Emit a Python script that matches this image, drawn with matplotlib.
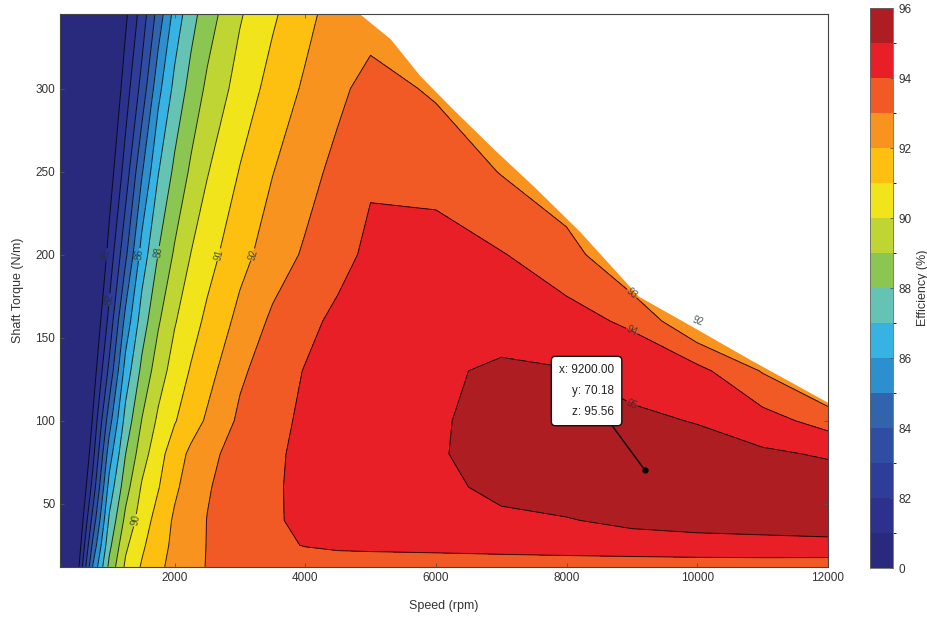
import matplotlib
matplotlib.use("Agg")
import matplotlib.pyplot as plt
import numpy as np
from matplotlib.colors import ListedColormap, BoundaryNorm

plt.rcParams["font.family"] = ["Liberation Sans Narrow", "Liberation Sans", "DejaVu Sans"]

# grid (speed in rpm, torque in N/m, efficiency in %)
speed = [250, 500, 750, 1000, 1250, 1500, 1750, 2000, 2250, 2500, 3000,
         3500, 4000, 4500, 5000, 6000, 7000, 8000, 9000, 10000, 11000, 12000]
torque = [12, 25, 40, 60, 80, 100, 130, 160, 200, 250, 300, 345]
efficiency = [
    [78.3, 80.28, 85.1, 88.26, 90.18, 91.1, 91.81, 92.29, 92.67, 93.05, 93.2, 93.3, 93.35, 93.4, 93.4, 93.45, 93.45, 93.45, 93.45, 93.45, 93.45, 93.4],
    [77.9, 79.86, 84.26, 87.73, 89.82, 90.83, 91.62, 92.21, 92.64, 93.03, 93.4, 93.75, 94.05, 94.2, 94.25, 94.3, 94.4, 94.5, 94.6, 94.7, 94.75, 94.8],
    [77.5, 79.47, 83.38, 87.16, 89.26, 90.5, 91.39, 92.14, 92.59, 93.02, 93.46, 93.89, 94.2, 94.4, 94.55, 94.7, 94.85, 94.95, 95.2, 95.3, 95.35, 95.4],
    [77.0, 79.0, 82.4, 86.36, 88.6, 90.11, 90.94, 91.83, 92.42, 92.93, 93.43, 93.9, 94.2, 94.45, 94.6, 94.8, 95.2, 95.45, 95.55, 95.6, 95.55, 95.5],
    [76.6, 78.56, 81.69, 85.52, 87.99, 89.56, 90.64, 91.5, 92.21, 92.75, 93.38, 93.86, 94.2, 94.45, 94.65, 94.9, 95.4, 95.5, 95.55, 95.4, 95.15, 94.9],
    [76.2, 78.2, 81.13, 84.59, 87.36, 89.04, 90.18, 90.93, 91.54, 92.14, 93.18, 93.76, 94.15, 94.4, 94.6, 94.9, 95.3, 95.4, 95.2, 94.95, 94.4, 93.6],
    [75.7, 77.7, 80.41, 83.25, 86.41, 88.25, 89.53, 90.41, 91.08, 91.64, 92.83, 93.51, 94.05, 94.4, 94.65, 94.85, 95.15, 95.05, 94.6, 94.3, 92.93, 91.5],
    [75.4, 77.4, 79.82, 82.3, 85.34, 87.49, 88.88, 89.92, 90.6, 91.21, 92.28, 93.18, 93.71, 94.25, 94.5, 94.75, 94.6, 94.3, 93.85, 92.0, 92.0, 92.0],
    [75.0, 76.9, 79.15, 81.36, 83.79, 86.43, 88.03, 89.13, 90.02, 90.62, 91.68, 92.48, 93.13, 93.62, 94.25, 94.35, 94.05, 93.5, 91.8, 91.8, 91.8, 91.8],
    [74.5, 76.5, 78.48, 80.46, 82.44, 84.9, 86.95, 88.21, 89.16, 89.94, 91.05, 91.97, 92.62, 93.3, 93.85, 93.7, 92.95, 92.0, 92.5, 92.5, 92.5, 92.5],
    [74.2, 76.2, 77.95, 79.73, 81.5, 83.36, 85.69, 87.28, 88.35, 89.19, 90.41, 91.36, 92.15, 92.75, 93.4, 92.85, 92.5, 92.5, 92.5, 92.5, 92.5, 92.5],
    [74.0, 75.9, 77.54, 79.18, 80.81, 82.44, 84.39, 86.36, 87.62, 88.53, 89.9, 90.85, 91.69, 92.5, 92.5, 92.5, 92.5, 92.5, 92.5, 92.5, 92.5, 92.5],
]

levels = [0, 81, 82, 83, 84, 85, 86, 87, 88, 89, 90, 91, 92, 93, 94, 95, 96]
cbar_ticks = [0, 82, 84, 86, 88, 90, 92, 94, 96]
labelled = [81, 82, 86, 88, 90, 91, 92, 93, 94, 95]

# maximum torque envelope
limit_speed = [4800, 5300, 5750, 6250, 6900, 7500, 8200, 9100, 10000, 10800, 12000]
limit_torque = [346, 330, 308, 288, 263, 241, 214, 175, 155, 137, 111]

# data cursor
tip_speed, tip_torque, tip_eff = 9200, 70.18, 95.56

band_colors = ["#29297d", "#2b318c", "#2d3d98", "#2f4ea3", "#3264ae",
               "#2e8fcf", "#36b2e3", "#64c3b4", "#8cc652", "#bed534",
               "#f1e41b", "#fdc010", "#f7931e", "#f15a24", "#e81f27", "#ad1d22"]

fig = plt.figure(figsize=(9.27, 6.27), dpi=100)
ax = fig.add_axes([0.065, 0.096, 0.828, 0.882])
cax = fig.add_axes([0.9385, 0.094, 0.025, 0.893])

cmap = ListedColormap(band_colors)
norm = BoundaryNorm(levels, cmap.N)
cf = ax.contourf(speed, torque, efficiency, levels=levels, cmap=cmap, norm=norm)
cl = ax.contour(speed, torque, efficiency, levels=levels[1:-1], colors="k",
                linewidths=0.7, alpha=0.8)
ax.clabel(cl, levels=labelled, fmt="%d", fontsize=7, inline=True,
          inline_spacing=1, colors="#1f3333")
ax.fill_between(limit_speed, limit_torque, 400, color="white", zorder=2.5, lw=0)

ax.plot(tip_speed, tip_torque, "o", color="k", ms=3.5, zorder=5)
ax.annotate(f"x: {tip_speed:.2f}\ny: {tip_torque:.2f}\nz: {tip_eff:.2f}",
            xy=(tip_speed, tip_torque), xytext=(-42, 57), textcoords="offset points",
            ha="center", va="center", fontsize=8.5, color="#222222", zorder=6,
            multialignment="right", linespacing=2.0,
            bbox=dict(boxstyle="round,pad=0.65,rounding_size=0.35", fc="white",
                      ec="#111111", lw=1.0),
            arrowprops=dict(arrowstyle="-", color="#111111", lw=1.1,
                            shrinkA=0, shrinkB=2))

ax.set_xlim(250, 12000)
ax.set_ylim(12, 345)
ax.set_xticks([2000, 4000, 6000, 8000, 10000, 12000])
ax.set_yticks([50, 100, 150, 200, 250, 300])
ax.tick_params(direction="in", length=3, width=0.6, colors="#555555",
               labelcolor="#333333", labelsize=8.5, top=True, right=True)
for s in ax.spines.values():
    s.set_color("#444444")
    s.set_linewidth(0.8)
ax.set_xlabel("Speed (rpm)", fontsize=9, color="#333333", labelpad=12)
ax.set_ylabel("Shaft Torque (N/m)", fontsize=9, color="#333333", labelpad=8)

cb = fig.colorbar(cf, cax=cax, ticks=cbar_ticks)
cb.ax.tick_params(direction="in", length=2, width=0.6, colors="#555555",
                  labelcolor="#333333", labelsize=8.5)
cb.outline.set_edgecolor("#666666")
cb.outline.set_linewidth(0.6)
cb.set_label("Efficiency (%)", fontsize=9, color="#333333", labelpad=4)

fig.savefig("out.png", dpi=100)
